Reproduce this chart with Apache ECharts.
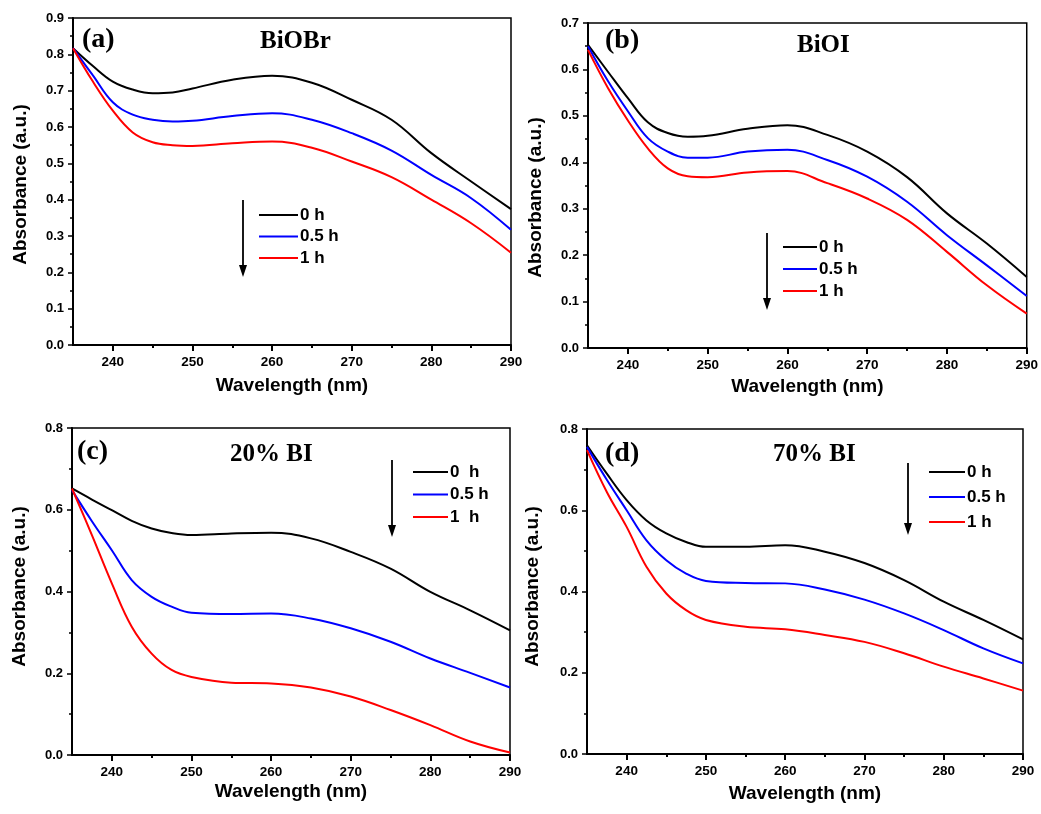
<!DOCTYPE html>
<html>
<head>
<meta charset="utf-8">
<script src="https://cdn.jsdelivr.net/npm/echarts@6/dist/echarts.min.js"></script>
<style>
html,body{margin:0;padding:0;background:#fff;}
#chart{width:1041px;height:814px;}
</style>
</head>
<body>
<div id="chart"></div>
<script>
// Wavelength sample points (nm)
const wavelengths = [235,237.5,240,242.5,245,247.5,250,255,260,265,270,275,280,285,290];
const xTickLabels = [240,250,260,270,280,290];
const xMinorTicks = [245,255,265,275,285];
const seriesNames = ['0 h','0.5 h','1 h'];
const seriesNamesC = ['0  h','0.5 h','1  h'];

// (a) BiOBr
const a_0h  = [0.817,0.768,0.725,0.703,0.693,0.695,0.706,0.730,0.741,0.722,0.675,0.620,0.528,0.450,0.374];
const a_05h = [0.817,0.742,0.668,0.634,0.620,0.615,0.617,0.630,0.638,0.620,0.583,0.535,0.468,0.404,0.317];
const a_1h  = [0.817,0.725,0.645,0.585,0.558,0.550,0.548,0.555,0.560,0.543,0.505,0.462,0.400,0.335,0.254];
// (b) BiOI
const b_0h  = [0.653,0.595,0.538,0.486,0.463,0.455,0.457,0.472,0.480,0.459,0.423,0.368,0.290,0.225,0.153];
const b_05h = [0.650,0.575,0.510,0.452,0.423,0.410,0.410,0.423,0.427,0.405,0.369,0.315,0.243,0.178,0.112];
const b_1h  = [0.642,0.560,0.490,0.430,0.387,0.370,0.368,0.378,0.381,0.355,0.322,0.276,0.207,0.135,0.074];
// (c) 20% BI
const c_0h  = [0.652,0.625,0.599,0.573,0.554,0.543,0.538,0.542,0.544,0.530,0.497,0.456,0.399,0.354,0.305];
const c_05h = [0.648,0.572,0.501,0.428,0.387,0.363,0.348,0.345,0.346,0.334,0.310,0.277,0.236,0.201,0.165];
const c_1h  = [0.652,0.538,0.420,0.314,0.248,0.208,0.191,0.177,0.175,0.165,0.143,0.110,0.073,0.033,0.006];
// (d) 70% BI
const d_0h  = [0.760,0.690,0.625,0.575,0.543,0.522,0.510,0.510,0.514,0.498,0.470,0.428,0.375,0.330,0.282];
const d_05h = [0.756,0.675,0.600,0.526,0.477,0.444,0.426,0.421,0.420,0.405,0.380,0.346,0.305,0.260,0.223];
const d_1h  = [0.748,0.645,0.559,0.461,0.395,0.354,0.330,0.313,0.307,0.293,0.276,0.248,0.215,0.186,0.156];

const yMaxes = [0.9,0.7,0.8,0.8];
const yIntervals = [0.1,0.1,0.2,0.2];
const panelLetters = ['(a)','(b)','(c)','(d)'];
const panelTitles = ['BiOBr','BiOI','20% BI','70% BI'];
const xAxisName = 'Wavelength (nm)';
const yAxisName = 'Absorbance (a.u.)';

const colors = ['#000000','#0000ff','#ff0000'];
const panelData = [[a_0h,a_05h,a_1h],[b_0h,b_05h,b_1h],[c_0h,c_05h,c_1h],[d_0h,d_05h,d_1h]];

// layout
const grids = [
  {left:73, top:18, width:438, height:327},
  {left:588, top:23, width:439, height:325},
  {left:72, top:428, width:438, height:327},
  {left:587, top:429, width:436, height:325}
];
const xNameGaps = [31,29,27,30];
const yNameGaps = [43,43,43,45];
const yNamePads = [[0,6,0,0],[0,24,0,0],[0,0,0,10],[0,0,0,10]];
const legendPos = [
  {left:259, top:206, itemWidth:39, itemGap:3.5},
  {left:783, top:238, itemWidth:34, itemGap:4},
  {left:413, top:463, itemWidth:35, itemGap:4.5},
  {left:929, top:463, itemWidth:36, itemGap:7}
];
const arrows = [[243,200,277],[767,233,310],[392,460,537],[908,463,535]];
const letterPos = [[82,40],[605,41],[77,452],[605,454]];
const titlePos = [[260,42],[797,46],[230,455],[773,455]];

const sansFont = '"Liberation Sans", Arial, sans-serif';
const serifFont = '"Liberation Serif", "Times New Roman", serif';

const xAxes = [], yAxes = [], series = [], legends = [], graphics = [];
grids.forEach((g, i) => {
  xAxes.push({
    gridIndex:i, type:'value', min:235, max:290,
    axisLine:{show:true, onZero:false, lineStyle:{color:'#000', width:2}},
    axisTick:{show:true, customValues:xTickLabels, length:6, lineStyle:{color:'#000', width:2}},
    axisLabel:{customValues:xTickLabels, margin:10, color:'#000', fontSize:13.5, fontWeight:'bold', fontFamily:sansFont},
    splitLine:{show:false},
    name:xAxisName, nameLocation:'middle', nameGap:xNameGaps[i],
    nameTextStyle:{color:'#000', fontSize:19, fontWeight:'bold', fontFamily:sansFont}
  });
  xAxes.push({
    gridIndex:i, type:'value', min:235, max:290, position:'bottom',
    axisLine:{show:false},
    axisTick:{show:true, customValues:xMinorTicks, length:3, lineStyle:{color:'#000', width:2}},
    axisLabel:{show:false}, splitLine:{show:false}
  });
  yAxes.push({
    gridIndex:i, type:'value', min:0, max:yMaxes[i], interval:yIntervals[i],
    axisLine:{show:true, onZero:false, lineStyle:{color:'#000', width:2}},
    axisTick:{show:true, length:5, lineStyle:{color:'#000', width:1.5}},
    minorTick:{show:true, splitNumber:2, length:3, lineStyle:{color:'#000', width:1.5}},
    axisLabel:{formatter:v => v.toFixed(1), margin:9, color:'#000', fontSize:13, fontWeight:'bold', fontFamily:sansFont},
    splitLine:{show:false}, minorSplitLine:{show:false},
    name:yAxisName, nameLocation:'middle', nameGap:yNameGaps[i], nameRotate:90,
    nameTextStyle:{color:'#000', fontSize:19, fontWeight:'bold', fontFamily:sansFont, padding:yNamePads[i]}
  });
  const names = i === 2 ? seriesNamesC : seriesNames;
  panelData[i].forEach((ys, k) => {
    series.push({
      type:'line', name:names[k], xAxisIndex:i*2, yAxisIndex:i,
      data: wavelengths.map((x, j) => [x, ys[j]]),
      smooth:0.4, showSymbol:false, symbol:'none',
      lineStyle:{color:colors[k], width:2}, itemStyle:{color:colors[k]},
      z:3
    });
  });
  const lp = legendPos[i];
  legends.push({
    orient:'vertical', left:lp.left, top:lp.top, padding:0,
    itemWidth:lp.itemWidth, itemHeight:2, itemGap:lp.itemGap, icon:'rect',
    data:names, selectedMode:false,
    textStyle:{color:'#000', fontSize:17, fontWeight:'bold', fontFamily:sansFont, lineHeight:18, padding:[0,0,0,-3]}
  });
  const ar = arrows[i];
  graphics.push({type:'line', shape:{x1:ar[0], y1:ar[1], x2:ar[0], y2:ar[2]-8}, style:{stroke:'#000', lineWidth:1.8}});
  graphics.push({type:'polygon', shape:{points:[[ar[0]-4, ar[2]-12],[ar[0]+4, ar[2]-12],[ar[0], ar[2]]]}, style:{fill:'#000'}});
  graphics.push({type:'text', x:letterPos[i][0], y:letterPos[i][1],
    style:{text:panelLetters[i], font:'bold 28px ' + serifFont, fill:'#000', verticalAlign:'middle', align:'left'}});
  graphics.push({type:'text', x:titlePos[i][0], y:titlePos[i][1],
    style:{text:panelTitles[i], font:'bold 25px ' + serifFont, fill:'#000', verticalAlign:'middle', align:'left'}});
});

const chart = echarts.init(document.getElementById('chart'), null, {renderer:'canvas'});
chart.setOption({
  backgroundColor:'#ffffff',
  animation:false,
  grid: grids.map(g => Object.assign({show:true, borderColor:'#000', borderWidth:1.5, backgroundColor:'transparent'}, g)),
  xAxis:xAxes, yAxis:yAxes, legend:legends, series:series, graphic:graphics
});
</script>
</body>
</html>
